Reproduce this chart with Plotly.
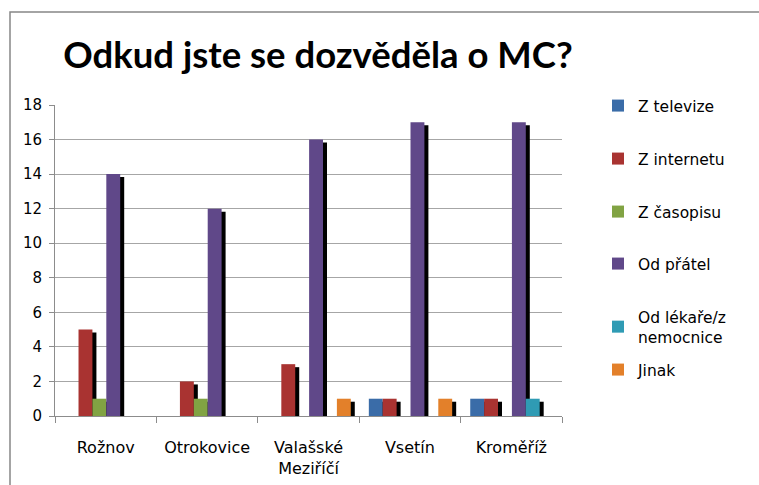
import plotly.graph_objects as go

# ---- data ----
categories = ["Rožnov", "Otrokovice", "Valašské<br>Meziříčí", "Vsetín", "Kroměříž"]
series_names = ["Z televize", "Z internetu", "Z časopisu", "Od přátel",
                "Od lékaře/z<br>nemocnice", "Jinak"]
z_televize = [0, 0, 0, 1, 1]
z_internetu = [5, 2, 3, 1, 1]
z_casopisu = [1, 1, 0, 0, 0]
od_pratel = [14, 12, 16, 17, 17]
od_lekare = [0, 0, 0, 0, 1]
jinak = [0, 0, 1, 1, 0]
series_values = [z_televize, z_internetu, z_casopisu, od_pratel, od_lekare, jinak]
y_ticks = [0, 2, 4, 6, 8, 10, 12, 14, 16, 18]

colors = ["#3A6CA8", "#A93331", "#81A343", "#604889", "#2F9BB4", "#E3802A"]

# ---- layout geometry (pixels) ----
W, H = 759, 485
L, R, T, B = 55, 562, 105, 416
pw, ph = R - L, B - T
cat_px = pw / len(categories)
slot = 0.137
start = -0.405
shadow_dx = 4 / cat_px
shadow_dy = 3 * 18 / ph

TITLE_FONT = "Lato"
FONT = "DejaVu Sans"

def px_x(x):
    return (x - L) / pw

def px_y(y):
    return (B - y) / ph

fig = go.Figure()

# shadows first
for i, vals in enumerate(series_values):
    fig.add_trace(go.Bar(
        x=categories, y=vals, base=-shadow_dy,
        offset=start + i * slot + shadow_dx, width=slot,
        marker=dict(color="#000000", line=dict(width=0)),
        showlegend=False, hoverinfo="skip",
    ))

legend_y_px = [105, 158, 211, 263, 316, 369]
legend_names = ["legend", "legend2", "legend3", "legend4", "legend5", "legend6"]

for i, (name, vals) in enumerate(zip(series_names, series_values)):
    fig.add_trace(go.Bar(
        x=categories, y=vals, name=name,
        offset=start + i * slot, width=slot,
        marker=dict(color=colors[i], line=dict(width=0)),
        legend=legend_names[i],
    ))

layout_legends = {}
for i, ln in enumerate(legend_names):
    layout_legends[ln] = dict(
        x=px_x(598), y=px_y(legend_y_px[i] - 16), xanchor="left", yanchor="top",
        font=dict(family=FONT, size=15.5, color="#000000"),
        bgcolor="rgba(0,0,0,0)", borderwidth=0,
    )

fig.update_layout(
    width=W, height=H,
    margin=dict(l=L, r=W - R, t=T, b=H - B, pad=0, autoexpand=False),
    paper_bgcolor="white", plot_bgcolor="white",
    barmode="overlay",
    showlegend=True,
    title=dict(
        text="<b>Odkud jste se dozvěděla o MC?</b>",
        x=318 / W, xanchor="center", xref="container",
        y=1 - 55 / H, yanchor="middle", yref="container",
        font=dict(family=TITLE_FONT, size=36.5, color="#000000"),
    ),
    xaxis=dict(
        type="category", range=[-0.5, len(categories) - 0.5],
        automargin=False,
        showline=True, linecolor="#8C8C8C", linewidth=1,
        ticks="outside", tickson="boundaries", ticklen=6, tickcolor="#8C8C8C",
        showgrid=False,
        tickfont=dict(family=FONT, size=16, color="#000000"),
        ticklabelstandoff=17,
    ),
    yaxis=dict(
        range=[0, 18], tickvals=y_ticks,
        automargin=False,
        showline=True, linecolor="#8C8C8C", linewidth=1,
        ticks="outside", ticklen=5, tickcolor="#8C8C8C",
        showgrid=True, gridcolor="#A6A6A6", gridwidth=1,
        zeroline=False,
        tickfont=dict(family=FONT, size=15, color="#000000"),
        ticklabelstandoff=4,
    ),
    shapes=[dict(
        type="rect", xref="paper", yref="paper",
        x0=px_x(10), y0=px_y(600), x1=px_x(900), y1=px_y(12),
        line=dict(color="#878787", width=1.5), fillcolor="rgba(0,0,0,0)",
        layer="below",
    )],
    **layout_legends,
)

fig.write_html("out.html", config={"displayModeBar": False},
               post_script="document.body.style.margin='0';")
